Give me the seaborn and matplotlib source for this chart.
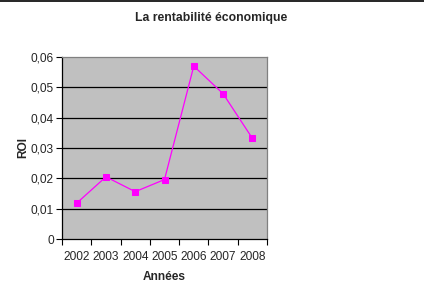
import matplotlib
matplotlib.use("Agg")
import matplotlib.pyplot as plt
import seaborn as sns
import pandas as pd
import numpy as np
from matplotlib.ticker import FixedLocator, FuncFormatter
from matplotlib.lines import Line2D

years = ["2002", "2003", "2004", "2005", "2006", "2007", "2008"]
roi = [0.0118, 0.0205, 0.0156, 0.0196, 0.0570, 0.0479, 0.0332]
yticks = [0, 0.01, 0.02, 0.03, 0.04, 0.05, 0.06]

sns.set_theme(style="white")
plt.rcParams["font.family"] = ["Liberation Sans", "DejaVu Sans"]

df = pd.DataFrame({"Années": years, "ROI": roi})

fig = plt.figure(figsize=(4.24, 3.0), dpi=100)
ax = fig.add_axes([62/424, 61/300, 205/424, 182/300])
ax.set_facecolor("#C0C0C0")

ax.set_ylim(0, 0.06)
ax.set_xlim(-0.5, len(years) - 0.5)
ax.set_axisbelow(True)
for t in yticks[1:-1]:
    ax.axhline(t, color="black", lw=0.9, zorder=1)

sns.lineplot(data=df, x="Années", y="ROI", ax=ax, color="#FF00FF",
             marker="s", markersize=4.5, markeredgecolor="#FF00FF",
             linewidth=0.9, zorder=3)

ax.set_yticks(yticks)
ax.yaxis.set_major_formatter(FuncFormatter(
    lambda v, p: "0" if v == 0 else f"{v:.2f}".replace(".", ",")))
ax.set_xticks(range(len(years)))
ax.set_xticklabels(years)
ax.xaxis.set_minor_locator(FixedLocator(np.arange(-0.5, len(years), 1.0)))

ax.tick_params(axis="y", which="major", direction="out", length=4, width=0.8,
               color="black", labelsize=8.6, pad=2, left=True)
ax.tick_params(axis="x", which="major", length=0, labelsize=8.6, pad=8.5)
ax.tick_params(axis="x", which="minor", direction="out", length=4, width=0.8,
               color="black", bottom=True)

for s in ["left", "bottom"]:
    ax.spines[s].set_color("black")
    ax.spines[s].set_linewidth(0.9)
for s in ["top", "right"]:
    ax.spines[s].set_color("#808080")
    ax.spines[s].set_linewidth(0.9)

ax.set_xlabel("Années", fontsize=8.6, fontweight="bold", labelpad=6)
ax.set_ylabel("ROI", fontsize=8.6, fontweight="bold", labelpad=1)

fig.text(211/424, 1 - 18/300, "La rentabilité économique", ha="center",
         va="center", fontsize=8.8, fontweight="bold")
fig.add_artist(Line2D([0, 1], [1 - 0.5/300, 1 - 0.5/300],
                      transform=fig.transFigure, color="black", lw=1.2))

fig.savefig("out.png", dpi=100)
